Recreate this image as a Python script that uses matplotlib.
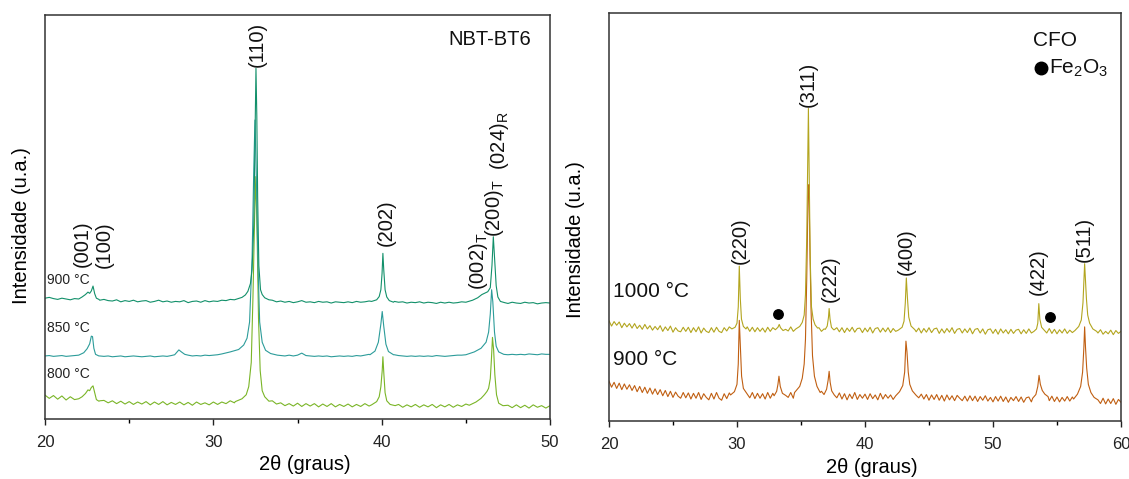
import numpy as np
import matplotlib.pyplot as plt
from matplotlib.ticker import MultipleLocator

plt.rcParams['font.family'] = ['Liberation Sans', 'DejaVu Sans']
plt.rcParams['mathtext.fontset'] = 'custom'
plt.rcParams['mathtext.rm'] = 'Liberation Sans'

# ---- left panel: NBT-BT6, baseline read every 0.25 deg from 20 to 50 ----
nbt_start, nbt_step = 20.0, 0.25

nbt900_base = [
    29.9, 30.1, 29.8, 29.6, 29.9, 29.7, 29.5, 29.8,
    29.6, 30.2, 30.8, 31.5, 30.3, 29.4, 29.6, 29.3,
    29.2, 29.5, 29.0, 29.3, 29.1, 29.4, 29.0, 29.2,
    29.3, 28.9, 29.1, 29.4, 29.0, 29.2, 28.9, 29.1,
    29.0, 29.3, 28.8, 29.1, 29.2, 28.9, 29.3, 29.0,
    29.2, 29.1, 29.4, 29.3, 29.6, 29.5, 29.8, 30.1,
    31.2, 40.0, 80.0, 35.0, 30.2, 29.6, 29.4, 29.0,
    29.2, 28.9, 29.1, 28.8, 29.0, 29.3, 28.9, 29.0,
    28.8, 29.1, 28.9, 29.0, 28.7, 29.0, 28.9, 28.8,
    29.0, 28.8, 29.1, 28.9, 29.0, 29.2, 29.4, 29.6,
    36.0, 32.0, 29.6, 29.1, 28.9, 29.0, 28.7, 28.9,
    28.8, 29.0, 28.7, 28.9, 28.8, 28.6, 28.9, 28.7,
    28.9, 28.7, 28.8, 29.0, 29.2, 29.6, 30.0, 30.3,
    31.0, 31.5, 40.0, 31.0, 29.0, 28.8, 28.6, 28.9,
    28.7, 28.6, 28.9, 28.7, 28.8, 28.5, 28.7, 28.8,
    28.7]
nbt900_peaks = [
    [(22.0, 29.7), (22.2, 30.2), (22.4, 30.8), (22.55, 31.4), (22.65, 31.1),
     (22.75, 31.7), (22.85, 32.9), (22.95, 31.0), (23.05, 29.9), (23.2, 29.6)],
    [(31.4, 29.7), (31.7, 30.1), (31.9, 30.7), (32.05, 31.6), (32.2, 33.5),
     (32.3, 37.0), (32.4, 48.0), (32.47, 70.0), (32.53, 86.8), (32.58, 75.0),
     (32.63, 55.0), (32.7, 38.0), (32.8, 32.0), (32.9, 30.8), (33.05, 30.0),
     (33.3, 29.5)],
    [(39.4, 29.1), (39.7, 29.5), (39.85, 30.3), (39.95, 32.0), (40.02, 36.0),
     (40.07, 41.0), (40.12, 37.0), (40.2, 32.0), (40.3, 30.2), (40.45, 29.3),
     (40.7, 28.9)],
    [(45.0, 28.9), (45.4, 29.4), (45.7, 30.0), (45.95, 30.8), (46.15, 31.2),
     (46.3, 31.5), (46.45, 32.5), (46.55, 38.0), (46.63, 45.1), (46.7, 40.0),
     (46.8, 33.0), (46.9, 30.2), (47.05, 29.1), (47.3, 28.8)],
]

nbt850_base = [
    15.6, 15.7, 15.5, 15.6, 15.7, 15.5, 15.6, 15.7,
    15.8, 16.2, 17.5, 20.0, 16.0, 15.6, 15.5, 15.6,
    15.4, 15.5, 15.6, 15.4, 15.5, 15.6, 15.5, 15.4,
    15.5, 15.6, 15.4, 15.5, 15.6, 15.5, 15.7, 15.9,
    17.0, 16.2, 15.8, 15.6, 15.7, 15.6, 15.8, 15.7,
    15.8, 15.9, 16.4, 16.7, 16.9, 17.2, 17.5, 18.3,
    20.0, 40.0, 70.0, 40.0, 19.0, 17.0, 16.2, 15.8,
    15.7, 15.6, 15.8, 15.6, 15.8, 16.3, 15.7, 15.6,
    15.5, 15.6, 15.5, 15.6, 15.4, 15.5, 15.6, 15.5,
    15.6, 15.5, 15.7, 15.6, 15.8, 16.0, 16.8, 19.0,
    26.0, 18.5, 16.5, 15.9, 15.7, 15.6, 15.5, 15.6,
    15.5, 15.6, 15.5, 15.6, 15.5, 15.7, 15.6, 15.5,
    15.6, 15.7, 15.8, 15.8, 15.9, 16.1, 16.6, 17.2,
    19.0, 26.0, 30.0, 18.0, 16.3, 16.0, 15.9, 16.0,
    15.9, 16.0, 15.9, 16.1, 16.0, 15.9, 16.1, 16.0,
    16.0]
nbt850_peaks = [
    [(22.0, 15.8), (22.3, 16.4), (22.5, 17.4), (22.65, 18.6), (22.75, 20.5),
     (22.82, 20.4), (22.9, 17.5), (23.0, 16.0), (23.2, 15.6)],
    [(27.7, 15.9), (27.85, 16.6), (27.95, 17.1), (28.1, 16.6), (28.3, 16.0)],
    [(30.5, 16.1), (31.0, 16.6), (31.5, 17.2), (31.8, 18.3), (32.0, 20.0),
     (32.15, 24.0), (32.3, 40.0), (32.4, 62.0), (32.47, 74.0), (32.55, 60.0),
     (32.65, 38.0), (32.75, 24.0), (32.9, 19.0), (33.1, 17.0), (33.4, 16.2),
     (33.8, 15.8)],
    [(39.3, 15.9), (39.6, 16.8), (39.8, 19.0), (39.95, 23.5), (40.03, 26.6),
     (40.12, 23.0), (40.25, 18.5), (40.4, 16.7), (40.7, 15.9)],
    [(45.0, 15.9), (45.5, 16.6), (45.9, 17.5), (46.2, 19.0), (46.35, 21.5),
     (46.45, 26.0), (46.53, 32.0), (46.6, 29.0), (46.7, 21.5), (46.8, 18.0),
     (46.95, 16.6), (47.2, 16.1)],
]

nbt800_base = [
    5.9, 5.1, 5.8, 4.9, 5.7, 4.7, 5.5, 4.8,
    5.0, 5.5, 6.8, 7.8, 5.0, 4.5, 4.6, 4.0,
    4.5, 3.8, 4.4, 3.7, 4.3, 3.6, 4.2, 3.7,
    4.3, 3.5, 4.2, 3.6, 4.3, 3.5, 4.1, 3.6,
    4.2, 3.5, 4.1, 3.4, 4.2, 3.6, 4.0, 3.5,
    4.2, 3.6, 4.2, 3.8, 4.5, 4.0, 4.6, 5.0,
    7.0, 30.0, 50.0, 20.0, 6.0, 4.6, 4.5, 3.7,
    4.0, 3.3, 3.8, 3.2, 3.9, 3.1, 3.8, 3.2,
    3.8, 3.0, 3.7, 3.1, 3.8, 3.0, 3.6, 3.1,
    3.7, 3.0, 3.6, 3.1, 3.8, 3.2, 4.0, 4.5,
    12.0, 4.5, 3.6, 3.0, 3.6, 2.9, 3.5, 3.0,
    3.6, 2.9, 3.5, 3.0, 3.6, 2.8, 3.5, 3.0,
    3.6, 2.9, 3.5, 3.1, 3.7, 3.3, 4.2, 5.0,
    6.0, 7.0, 15.0, 11.0, 3.9, 3.3, 3.4, 2.8,
    3.5, 2.8, 3.4, 2.7, 3.5, 2.9, 3.3, 2.7,
    3.3]
nbt800_peaks = [
    [(22.0, 5.0), (22.2, 5.5), (22.4, 6.3), (22.55, 7.2), (22.65, 7.0),
     (22.75, 7.8), (22.85, 8.2), (22.95, 6.5), (23.05, 4.8), (23.2, 4.4)],
    [(31.3, 4.3), (31.7, 5.0), (31.95, 6.0), (32.1, 8.0), (32.25, 14.0),
     (32.35, 30.0), (32.45, 50.0), (32.52, 60.0), (32.6, 45.0), (32.68, 25.0),
     (32.78, 12.0), (32.9, 7.0), (33.05, 5.5), (33.3, 4.4)],
    [(39.4, 3.5), (39.7, 4.3), (39.85, 5.5), (39.95, 8.0), (40.03, 12.0),
     (40.07, 15.4), (40.13, 11.0), (40.2, 6.5), (40.3, 4.5), (40.5, 3.6),
     (40.8, 3.3)],
    [(45.2, 3.4), (45.6, 4.2), (45.9, 5.1), (46.1, 6.0), (46.25, 6.8),
     (46.35, 7.6), (46.45, 10.0), (46.52, 15.0), (46.58, 20.2), (46.65, 17.0),
     (46.72, 11.0), (46.82, 6.0), (46.95, 3.9), (47.2, 3.3)],
]

nbt_labels = ['900 °C', '850 °C', '800 °C']
nbt_label_y = [34.4, 22.4, 11.1]
nbt_colors = ['#12906a', '#2c9c9a', '#7ab527']

# (text, x, bottom y)
nbt_hkl = [('(001)', 22.19, 37.7), ('(100)', 23.52, 37.3), ('(110)', 32.63, 87.2),
           ('(202)', 40.24, 42.7), ('(002)$_\\mathregular{T}$', 45.72, 31.9),
           ('(200)$_\\mathregular{T}$', 46.68, 45.0),
           ('(024)$_\\mathregular{R}$', 46.97, 61.6)]

# ---- right panel: CFO, baseline read every 0.2 deg from 20 to 60 ----
cfo_start, cfo_step = 20.0, 0.2

cfo1000_base = [
    24.6, 23.3, 24.4, 23.5, 24.3, 22.9, 24.0, 23.1, 23.9, 22.8,
    23.9, 22.7, 23.5, 22.5, 23.7, 22.6, 23.4, 22.3, 23.2, 22.4,
    23.4, 22.0, 23.1, 22.2, 23.3, 21.8, 22.9, 22.1, 21.9, 23.0,
    22.0, 23.0, 21.7, 22.9, 21.9, 23.1, 21.6, 22.8, 22.0, 21.7,
    22.9, 21.8, 23.0, 22.0, 21.7, 22.9, 22.1, 23.1, 22.5, 22.7,
    24.0, 30.0, 25.0, 22.6, 23.1, 22.0, 23.0, 21.9, 22.9, 22.0,
    22.8, 21.8, 23.0, 22.0, 22.9, 22.4, 23.0, 22.9, 22.2, 22.5,
    22.1, 23.1, 22.0, 22.6, 23.0, 24.0, 30.0, 60.0, 40.0, 25.0,
    23.6, 23.0, 22.9, 22.0, 22.6, 23.0, 27.0, 23.0, 22.4, 22.9,
    21.9, 22.9, 21.7, 22.8, 22.0, 23.0, 21.8, 22.7, 22.8, 21.7,
    22.8, 21.9, 23.0, 21.6, 22.7, 22.9, 21.8, 22.8, 21.9, 22.9,
    21.7, 22.7, 22.0, 22.3, 23.0, 24.5, 35.0, 30.0, 23.3, 22.8,
    21.9, 22.8, 21.6, 22.7, 21.8, 22.9, 21.7, 22.6, 22.8, 21.5,
    22.6, 21.6, 22.7, 21.8, 22.9, 21.5, 22.5, 22.7, 21.6, 22.6,
    21.7, 22.8, 21.4, 22.5, 22.7, 21.6, 22.6, 21.3, 22.4, 22.6,
    21.5, 22.5, 21.3, 22.6, 21.6, 22.4, 21.4, 22.5, 21.5, 22.3,
    22.5, 21.4, 22.4, 21.5, 22.6, 21.6, 22.0, 24.0, 25.0, 23.0,
    22.3, 21.6, 22.7, 21.5, 22.5, 21.4, 22.4, 21.6, 22.6, 21.5,
    22.3, 21.7, 22.5, 23.0, 24.0, 30.0, 38.0, 30.0, 24.0, 22.6,
    22.3, 21.6, 22.4, 21.3, 22.0, 21.4, 22.3, 21.2, 22.2, 21.5,
    22.0]
cfo1000_peaks = [
    [(29.6, 22.6), (29.85, 23.0), (30.0, 24.0), (30.1, 28.0), (30.18, 38.0),
     (30.26, 30.0), (30.35, 25.0), (30.5, 23.2), (30.7, 22.6)],
    [(33.0, 22.4), (33.2, 23.0), (33.3, 23.7), (33.4, 22.9), (33.6, 22.2)],
    [(34.6, 22.6), (34.9, 23.2), (35.1, 24.2), (35.25, 26.0), (35.35, 31.0),
     (35.45, 45.0), (35.52, 62.0), (35.58, 76.7), (35.64, 60.0), (35.72, 40.0),
     (35.82, 28.0), (35.95, 25.0), (36.1, 23.6), (36.3, 22.8)],
    [(36.9, 22.5), (37.05, 23.3), (37.15, 25.5), (37.2, 27.6), (37.27, 25.0),
     (37.38, 23.0), (37.55, 22.4)],
    [(42.6, 22.3), (42.9, 23.0), (43.05, 24.5), (43.15, 29.0), (43.23, 35.1),
     (43.32, 30.0), (43.42, 25.5), (43.6, 23.3), (43.9, 22.4)],
    [(53.2, 22.0), (53.4, 22.6), (53.5, 24.0), (53.58, 28.8), (53.66, 25.0),
     (53.8, 23.0), (54.0, 22.3)],
    [(56.4, 22.2), (56.7, 23.2), (56.9, 24.8), (57.03, 29.0), (57.1, 34.0),
     (57.16, 38.6), (57.22, 35.0), (57.3, 30.0), (57.4, 26.0), (57.55, 24.0),
     (57.8, 22.6), (58.1, 22.0)],
]

cfo900_base = [
    9.8, 8.3, 9.5, 8.0, 9.3, 7.7, 9.1, 7.8, 8.9, 7.5,
    8.7, 7.2, 8.5, 7.0, 8.3, 6.8, 8.1, 6.6, 7.9, 6.5,
    7.7, 6.2, 7.5, 6.0, 7.3, 5.8, 7.1, 6.1, 5.6, 7.0,
    5.7, 6.9, 5.4, 6.8, 5.6, 7.0, 5.3, 6.7, 5.8, 5.2,
    6.8, 5.4, 7.0, 5.6, 5.1, 6.7, 5.5, 6.9, 6.2, 6.6,
    9.0, 14.0, 11.0, 7.5, 6.6, 5.7, 7.0, 5.5, 6.8, 5.6,
    6.7, 5.4, 7.0, 5.6, 6.8, 6.0, 9.0, 8.0, 6.5, 6.3,
    5.8, 7.0, 5.6, 7.0, 7.5, 10.0, 14.0, 40.0, 30.0, 16.0,
    10.0, 8.5, 7.0, 7.3, 7.0, 8.0, 12.0, 8.0, 6.4, 5.7,
    6.9, 5.4, 6.7, 5.2, 6.6, 5.5, 7.0, 5.3, 6.5, 5.6,
    6.6, 5.3, 6.7, 5.5, 6.4, 5.2, 6.8, 5.4, 6.5, 5.6,
    6.4, 5.3, 6.2, 7.0, 8.5, 12.0, 19.0, 12.0, 8.0, 7.2,
    6.3, 5.7, 6.6, 5.4, 6.5, 5.1, 6.4, 5.3, 6.5, 5.1,
    6.3, 4.9, 6.4, 5.2, 6.2, 5.0, 6.3, 5.6, 5.0, 6.1,
    4.9, 6.2, 5.0, 6.1, 4.8, 6.0, 5.1, 6.2, 4.9, 5.8,
    4.7, 6.0, 4.9, 6.1, 4.8, 5.9, 4.6, 5.8, 5.0, 6.0,
    4.8, 5.9, 4.6, 5.7, 5.9, 4.7, 5.6, 6.5, 9.0, 7.5,
    6.6, 6.0, 5.0, 6.1, 4.8, 5.9, 4.7, 5.8, 4.9, 6.0,
    4.9, 5.9, 5.4, 6.6, 8.5, 18.0, 23.0, 13.0, 9.0, 7.0,
    5.8, 5.2, 4.3, 5.6, 4.2, 5.4, 4.3, 5.5, 4.1, 5.3,
    4.6]
cfo900_peaks = [
    [(29.5, 6.4), (29.8, 7.2), (30.0, 9.0), (30.1, 14.0), (30.18, 24.7),
     (30.27, 18.0), (30.36, 11.0), (30.5, 8.0), (30.8, 6.6)],
    [(32.9, 6.2), (33.1, 7.3), (33.2, 9.0), (33.28, 11.0), (33.38, 8.5),
     (33.55, 6.8), (33.8, 6.3)],
    [(34.5, 7.0), (34.9, 8.5), (35.1, 10.5), (35.25, 14.0), (35.35, 20.0),
     (35.45, 35.0), (35.55, 55.0), (35.62, 58.0), (35.7, 42.0), (35.78, 28.0),
     (35.9, 16.0), (36.05, 11.0), (36.25, 8.5), (36.5, 7.0)],
    [(36.8, 6.5), (37.0, 7.8), (37.12, 10.0), (37.2, 12.2), (37.28, 9.5),
     (37.4, 7.4), (37.6, 6.4)],
    [(42.4, 6.2), (42.7, 7.2), (42.95, 8.7), (43.1, 12.0), (43.2, 19.6),
     (43.28, 17.0), (43.38, 12.0), (43.5, 9.0), (43.7, 7.4), (44.0, 6.3)],
    [(53.1, 5.6), (53.35, 6.5), (53.5, 8.5), (53.6, 11.2), (53.7, 9.0),
     (53.85, 7.5), (54.05, 6.6), (54.3, 6.0)],
    [(56.3, 5.4), (56.6, 6.6), (56.85, 8.5), (57.0, 12.0), (57.1, 18.0),
     (57.16, 23.1), (57.23, 18.0), (57.32, 13.0), (57.45, 9.0), (57.65, 7.0),
     (57.9, 5.8), (58.2, 5.2)],
]

cfo_labels = ['1000 °C', '900 °C']
cfo_label_y = [31.7, 15.1]
cfo_colors = ['#b3a51f', '#c05f12']

cfo_hkl = [('(220)', 30.23, 38.6), ('(311)', 35.58, 77.1), ('(222)', 37.26, 29.2),
           ('(400)', 43.23, 35.8), ('(422)', 53.57, 30.9), ('(511)', 57.16, 39.0)]
fe2o3_x = [33.22, 54.43]
fe2o3_y = [26.2, 25.5]


def pattern(start, step, base, peaks):
    x = np.round(start + step * np.arange(len(base)), 3)
    y = np.array(base, dtype=float)
    keep = np.ones(len(x), dtype=bool)
    for seg in peaks:
        lo, hi = seg[0][0], seg[-1][0]
        keep &= ~((x >= lo) & (x <= hi))
    px = np.array([p[0] for seg in peaks for p in seg])
    py = np.array([p[1] for seg in peaks for p in seg])
    xx = np.concatenate([x[keep], px])
    yy = np.concatenate([y[keep], py])
    order = np.argsort(xx)
    return xx[order], yy[order]


def style_axes(ax):
    ax.set_ylim(0, 100)
    ax.set_yticks([])
    ax.xaxis.set_major_locator(MultipleLocator(10))
    ax.xaxis.set_minor_locator(MultipleLocator(5))
    ax.tick_params(axis='x', which='major', direction='out', length=4.5,
                   width=1.0, labelsize=12, pad=7, colors='#222222')
    ax.tick_params(axis='x', which='minor', direction='out', length=3,
                   width=1.0)
    for sp in ax.spines.values():
        sp.set_linewidth(1.1)
        sp.set_color('#333333')


fig = plt.figure(figsize=(11.29, 4.79), dpi=100)

# left
ax1 = fig.add_axes([0.0399, 0.1253, 0.4473, 0.8434])
series = [(nbt800_base, nbt800_peaks, nbt_colors[2]),
          (nbt850_base, nbt850_peaks, nbt_colors[1]),
          (nbt900_base, nbt900_peaks, nbt_colors[0])]
for base, peaks, col in series:
    x, y = pattern(nbt_start, nbt_step, base, peaks)
    ax1.plot(x, y, color=col, lw=0.8)
ax1.set_xlim(20, 50)
style_axes(ax1)
for lab, ly in zip(nbt_labels, nbt_label_y):
    ax1.text(20.1, ly, lab, fontsize=10, va='center', ha='left', color='#222222')
for txt, hx, hy in nbt_hkl:
    ax1.text(hx, hy, txt, rotation=90, ha='center', va='bottom', fontsize=14.5,
             color='#111111')
ax1.text(48.87, 94.0, 'NBT-BT6', ha='right', va='center', fontsize=14.5,
         color='#111111')
ax1.set_xlabel('2θ (graus)', fontsize=14.5)
ax1.xaxis.set_label_coords(0.515, -0.09)
ax1.set_ylabel('Intensidade (u.a.)', fontsize=14.5)
ax1.yaxis.set_label_coords(-0.028, 0.478)

# right
ax2 = fig.add_axes([0.5394, 0.121, 0.4535, 0.851])
series = [(cfo900_base, cfo900_peaks, cfo_colors[1]),
          (cfo1000_base, cfo1000_peaks, cfo_colors[0])]
for base, peaks, col in series:
    x, y = pattern(cfo_start, cfo_step, base, peaks)
    ax2.plot(x, y, color=col, lw=0.8)
ax2.set_xlim(20, 60)
style_axes(ax2)
for lab, ly in zip(cfo_labels, cfo_label_y):
    ax2.text(20.28, ly, lab, fontsize=15, va='center', ha='left', color='#111111')
for txt, hx, hy in cfo_hkl:
    ax2.text(hx, hy, txt, rotation=90, ha='center', va='bottom', fontsize=14.5,
             color='#111111')
ax2.plot(fe2o3_x, fe2o3_y, 'o', color='black', ms=6.8, ls='none')
ax2.text(53.1, 93.3, 'CFO', ha='left', va='center', fontsize=15, color='#111111')
ax2.plot([53.75], [86.5], 'o', color='black', ms=9)
ax2.text(54.35, 86.5, 'Fe$_\\mathregular{2}$O$_\\mathregular{3}$', ha='left',
         va='center', fontsize=15, color='#111111')
ax2.set_xlabel('2θ (graus)', fontsize=14.5)
ax2.xaxis.set_label_coords(0.513, -0.09)
ax2.set_ylabel('Intensidade (u.a.)', fontsize=14.5)
ax2.yaxis.set_label_coords(-0.047, 0.444)

fig.savefig('out.png', dpi=100)
